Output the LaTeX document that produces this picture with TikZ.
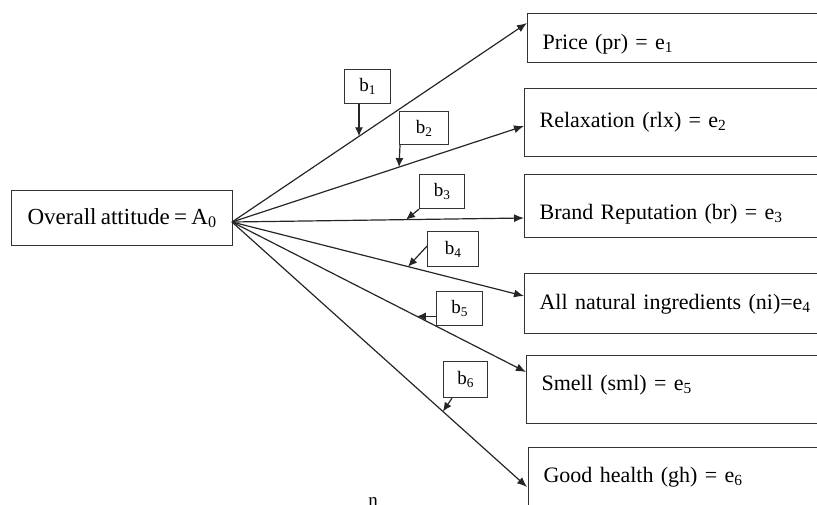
\documentclass[tikz,border=0pt]{standalone}
\usepackage{fontspec}
\setmainfont[WordSpace=0.75]{Liberation Serif}
\usetikzlibrary{arrows.meta}
\newcommand{\liftt}[2]{\raisebox{#1}[15pt][5pt]{#2}}
\begin{document}
\begin{tikzpicture}[x=1pt,y=-1pt,
  lnk/.style={draw=black!85, line width=1.2pt, -{Latex[length=10pt,width=8pt]}},
  outbox/.style={draw=black!80, line width=1.2pt, anchor=north west, minimum width=360pt, align=left, inner xsep=13pt, inner ysep=0pt, font=\fontsize{22}{25}\selectfont, text width=330pt},
  bbox/.style={draw=black!80, line width=1.2pt, anchor=north west, inner sep=0pt, font=\fontsize{19}{22}\selectfont},
  sm/.style={draw=black!85, line width=1.2pt, -{Latex[length=9pt,width=8pt]}}]
\useasboundingbox (0,0) rectangle (817,504);
\clip (0,0) rectangle (817,504);
\node[draw=black!80, line width=1.2pt, anchor=north west, minimum width=221pt, minimum height=55pt, inner sep=0pt, font=\fontsize{23}{26}\selectfont] (A) at (11,190) {Overall attitude = A\textsubscript{0}};
\coordinate (o) at (232,222);
\node[outbox, minimum height=49pt] (p1) at (527,13) {\liftt{-6pt}{Price (pr) = e\textsubscript{1}}};
\node[outbox, minimum height=68pt] (p2) at (524,88) {\liftt{0pt}{Relaxation (rlx) = e\textsubscript{2}}};
\node[outbox, minimum height=63pt] (p3) at (524,174) {\liftt{-8pt}{Brand Reputation (br) = e\textsubscript{3}}};
\node[outbox, minimum height=60pt] (p4) at (524,273) {\liftt{-1pt}{All natural ingredients (ni)=e\textsubscript{4}}};
\node[outbox, minimum height=68pt] (p5) at (526,355) {\liftt{4pt}{Smell (sml) = e\textsubscript{5}}};
\node[outbox, minimum height=70pt] (p6) at (528,447) {\liftt{5pt}{Good health (gh) = e\textsubscript{6}}};
\coordinate (t1) at (527,23);
\coordinate (t2) at (524,126);
\coordinate (t3) at (524,218);
\coordinate (t4) at (524,296);
\coordinate (t5) at (526,372);
\coordinate (t6) at (527,487);
\draw[lnk] (o) -- coordinate[pos=0.4305] (m1) (t1);
\draw[lnk] (o) -- coordinate[pos=0.572] (m2) (t2);
\draw[lnk] (o) -- coordinate[pos=0.596] (m3) (t3);
\draw[lnk] (o) -- coordinate[pos=0.603] (m4) (t4);
\draw[lnk] (o) -- coordinate[pos=0.629] (m5) (t5);
\draw[lnk] (o) -- coordinate[pos=0.715] (m6) (t6);
\node[bbox, minimum width=46pt, minimum height=34pt] (b1) at (344,69) {b\textsubscript{1}};
\node[bbox, minimum width=49pt, minimum height=33pt] (b2) at (399,111) {b\textsubscript{2}};
\node[bbox, minimum width=45pt, minimum height=34pt] (b3) at (419,174) {b\textsubscript{3}};
\node[bbox, minimum width=51pt, minimum height=35pt] (b4) at (427,231) {b\textsubscript{4}};
\node[bbox, minimum width=46pt, minimum height=34pt] (b5) at (436,291) {b\textsubscript{5}};
\node[bbox, minimum width=44pt, minimum height=36pt] (b6) at (443,361) {b\textsubscript{6}};
\draw[sm] (m1 |- b1.south) -- (m1);
\draw[sm] ([xshift=1pt]b2.south west) -- (m2);
\draw[sm] (b3.south west) -- (m3);
\draw[sm] ([yshift=3pt]b4.west) -- (m4);
\draw[sm] (b5.west |- m5) -- (m5);
\draw[sm] ([xshift=9pt]b6.south west) -- (m6);
\node[anchor=north, inner sep=0pt, font=\fontsize{19}{22}\selectfont] (n) at (373,497) {n};
\end{tikzpicture}
\end{document}
